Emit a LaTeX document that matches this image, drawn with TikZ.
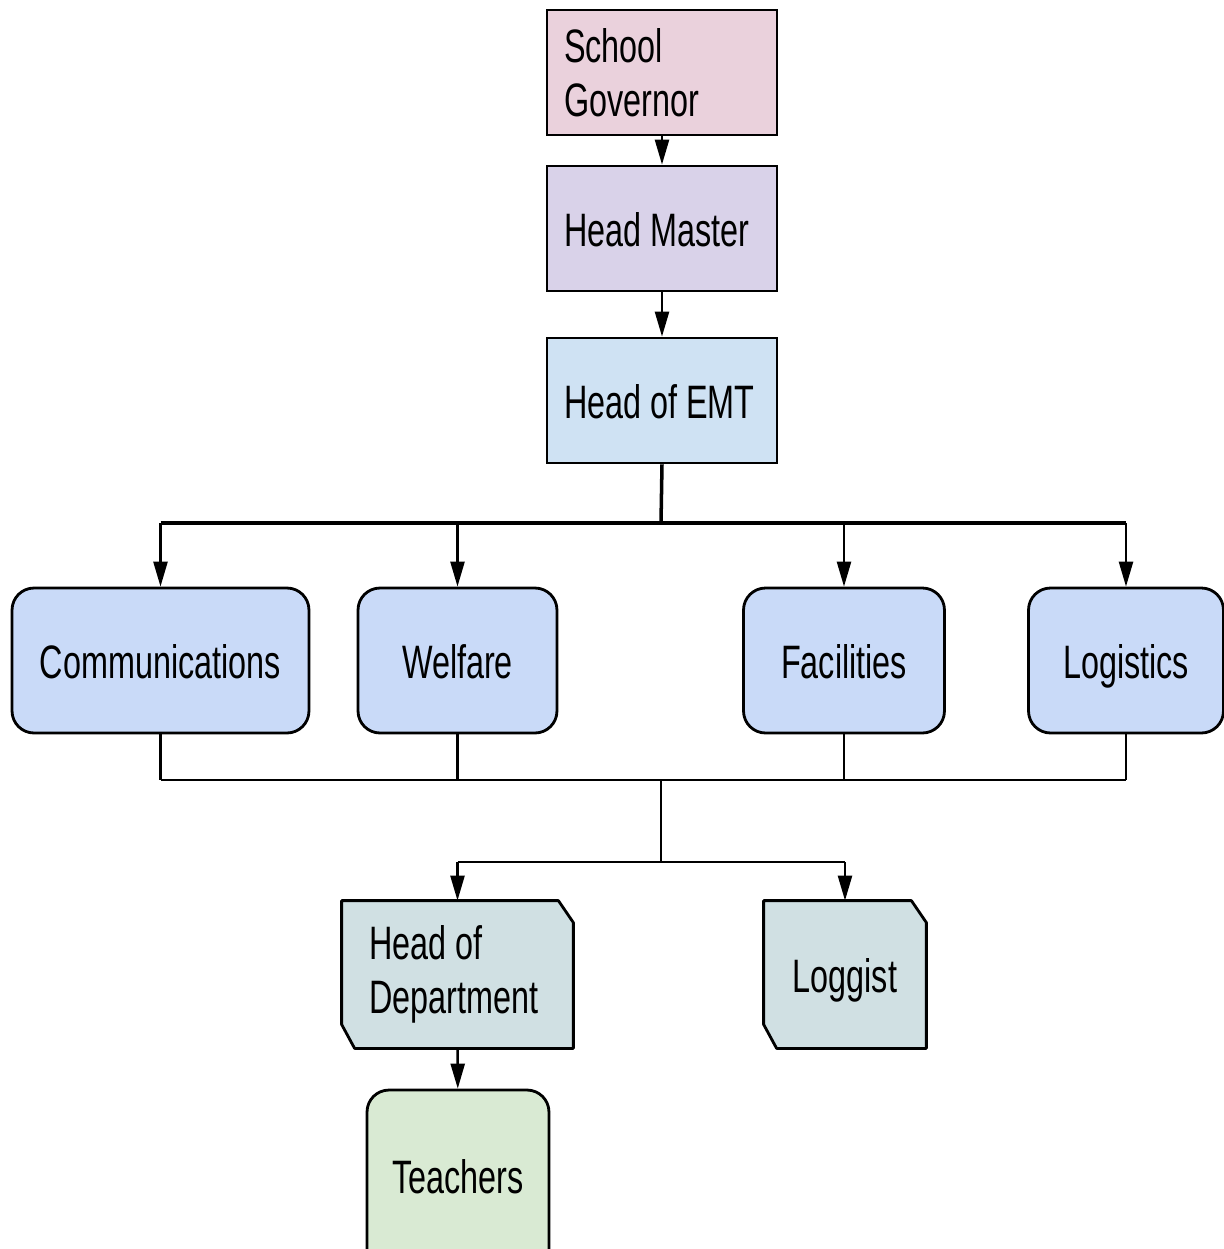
\documentclass[tikz,border=0pt]{standalone}
\usepackage{fontspec}
\setmainfont{Liberation Sans}[FakeStretch=0.69]
\usepackage{tikz}
\usetikzlibrary{arrows.meta,backgrounds}
\definecolor{govpink}{HTML}{EAD1DC}
\definecolor{headlilac}{HTML}{D9D2E9}
\definecolor{emtblue}{HTML}{CFE2F3}
\definecolor{unitblue}{HTML}{C9DAF8}
\definecolor{postcyan}{HTML}{D0E0E3}
\definecolor{teachgreen}{HTML}{D9EAD3}

\begin{document}
\begin{tikzpicture}[x=0.02cm, y=-0.02cm,
  box/.style={draw=black, line width=1.6pt, inner sep=0pt, font=\fontsize{26.7}{30.5}\selectfont,
    execute at begin node={\spaceskip=0.18cm plus 0.05cm\relax}},
  oneline/.style={text height=0.85cm, text depth=0.15cm},
  topbox/.style={box, rectangle, minimum width=4.6cm, minimum height=2.5cm, text width=3.92cm, align=left},
  unitbox/.style={box, oneline, rectangle, rounded corners=0.44cm, fill=unitblue, minimum height=2.9cm},
  postbox/.style={box, draw=none, rectangle, minimum height=2.9cm},
  postedge/.style={draw=black, line width=1.6pt, fill=postcyan, line join=round},
  bus/.style={line width=1.4pt},
  mainbus/.style={line width=2pt},
  feed/.style={bus, -{Triangle[length=0.5cm, width=0.28cm]}}
]
\useasboundingbox (0,0) rectangle (1224,1249);
\clip (0,0) rectangle (1224,1249);

\node[topbox, fill=govpink] (gov) at (662,72.5) {School\\Governor};
\node[topbox, oneline, fill=headlilac] (head) at (662,228.5) {Head Master};
\node[topbox, oneline, fill=emtblue] (emt) at (662,400.5) {Head of EMT};

\node[unitbox, minimum width=5.94cm] (comm) at (160.5,660.5) {Communications};
\node[unitbox, minimum width=3.98cm] (welf) at (457.5,660.5) {Welfare};
\node[unitbox, minimum width=4.02cm] (faci) at (844,660.5) {Facilities};
\node[unitbox, minimum width=3.9cm] (logi) at (1126,660.5) {Logistics};

\node[postbox, minimum width=4.58cm, text width=3.54cm, align=left] (hod) at (457.5,974.5) {Head of\\Department};
\node[postbox, oneline, minimum width=3.2cm] (logg) at (845,974.5) {Loggist};

\node[box, rectangle, rounded corners=0.44cm, fill=teachgreen, minimum width=3.64cm, minimum height=4cm,
  text height=0.67cm, text depth=0.55cm] (teach) at (458,1190) {Teachers};

\begin{scope}[on background layer]
\foreach \p in {hod,logg}
  \draw[postedge] (\p.north west) -- ([xshift=-0.3cm]\p.north east) -- ([yshift=-0.44cm]\p.north east)
    -- (\p.south east) -- ([xshift=0.26cm]\p.south west) -- ([yshift=0.48cm]\p.south west) -- cycle;
\end{scope}

\coordinate (upbus) at (661,523);
\coordinate (lowbus) at (661,780);
\coordinate (splitbus) at (661,862);

\draw[feed] (gov) -- (head);
\draw[feed] (head) -- (emt);
\draw[mainbus] (emt.south) -- (upbus);
\draw[mainbus] (comm.north |- upbus) -- (logi.north |- upbus);
\foreach \u in {comm,welf,faci,logi}
  \draw[feed] (\u.north |- upbus) -- (\u.north);

\foreach \u in {comm,welf,faci,logi}
  \draw[bus] (\u.south) -- (\u.south |- lowbus);
\draw[bus] (comm.south |- lowbus) -- (logi.south |- lowbus);
\draw[bus] (lowbus) -- (splitbus);
\draw[bus] (hod.north |- splitbus) -- (logg.north |- splitbus);
\foreach \p in {hod,logg}
  \draw[feed] (\p.north |- splitbus) -- (\p.north);
\draw[feed] (hod) -- (teach);
\end{tikzpicture}
\end{document}
